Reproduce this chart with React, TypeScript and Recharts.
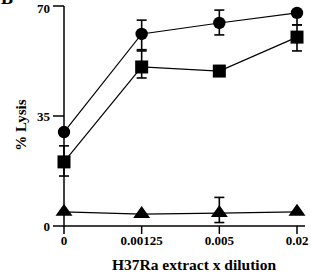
import React from 'react';
import { LineChart, Line, XAxis, YAxis, ErrorBar } from 'recharts';

const dilutions = ['0', '0.00125', '0.005', '0.02'];
const circleValues = [29.9, 61.1, 64.6, 67.8];
const circleErrors: [number, number][] = [[1, 1], [5, 4.4], [3.8, 4.1], [3.8, 0]];
const squareValues = [20.4, 50.6, 49.3, 60.1];
const squareErrors: [number, number][] = [[4.5, 5.1], [3.5, 5.1], [1, 1], [4.4, 3.9]];
const triangleValues = [4.5, 3.8, 4.1, 4.5];
const triangleErrors: [number, number][] = [[0, 0], [0, 0], [3, 5], [0, 0]];
const yTicks = [0, 35, 70];

const data = dilutions.map((d, i) => ({
  dilution: d,
  circle: circleValues[i],
  circleErr: circleErrors[i],
  square: squareValues[i],
  squareErr: squareErrors[i],
  triangle: triangleValues[i],
  triangleErr: triangleErrors[i],
}));

const FONT = '"Liberation Serif", "Times New Roman", serif';

const CircleDot = (p: any) => (
  <circle key={p.key} cx={p.cx} cy={p.cy} r={6.2} fill="#000" stroke="none" />
);
const SquareDot = (p: any) => (
  <rect key={p.key} x={p.cx - 6.5} y={p.cy - 6.5} width={13} height={13} fill="#000" stroke="none" />
);
const TriangleDot = (p: any) => (
  <path
    key={p.key}
    d={`M${p.cx},${p.cy - 8} L${p.cx + 8.5},${p.cy + 4} L${p.cx - 8.5},${p.cy + 4} Z`}
    fill="#000"
    stroke="none"
  />
);

const tickStyle = { fontFamily: FONT, fontWeight: 700, fontSize: 13, fill: '#000' };

export default function App() {
  return (
    <div style={{ position: 'absolute', left: 0, top: 0, width: 311, height: 273, background: '#fff', overflow: 'hidden' }}>
      <div
        style={{
          position: 'absolute',
          left: 1,
          top: -12,
          fontFamily: FONT,
          fontWeight: 700,
          fontSize: 18,
          color: '#000',
        }}
      >
        B
      </div>
      <LineChart width={311} height={273} data={data} margin={{ top: 6, right: 6, left: 0, bottom: 0 }}>
        <XAxis
          dataKey="dilution"
          height={47}
          padding={{ left: 0, right: 8 }}
          stroke="#000"
          strokeWidth={1.5}
          tickSize={8}
          tickMargin={2}
          tick={tickStyle}
          interval={0}
          label={() => (
            <text
              x={194}
              y={270}
              textAnchor="middle"
              fontFamily={FONT}
              fontWeight={700}
              fontSize={15.5}
              fill="#000"
            >
              H37Ra extract x dilution
            </text>
          )}
        />
        <YAxis
          type="number"
          domain={[0, 70]}
          ticks={yTicks}
          width={64}
          stroke="#000"
          strokeWidth={1.5}
          tickSize={11}
          tickMargin={3}
          tick={tickStyle}
          label={() => (
            <text
              x={0}
              y={0}
              transform="translate(26,125) rotate(-90)"
              textAnchor="middle"
              fontFamily={FONT}
              fontWeight={700}
              fontSize={15}
              fill="#000"
            >
              % Lysis
            </text>
          )}
        />
        <Line
          dataKey="triangle"
          stroke="#000"
          strokeWidth={1.2}
          dot={TriangleDot}
          activeDot={false}
          isAnimationActive={false}
        >
          <ErrorBar dataKey="triangleErr" direction="y" width={5} stroke="#000" strokeWidth={1.6} />
        </Line>
        <Line
          dataKey="square"
          stroke="#000"
          strokeWidth={1.2}
          dot={SquareDot}
          activeDot={false}
          isAnimationActive={false}
        >
          <ErrorBar dataKey="squareErr" direction="y" width={5} stroke="#000" strokeWidth={1.6} />
        </Line>
        <Line
          dataKey="circle"
          stroke="#000"
          strokeWidth={1.2}
          dot={CircleDot}
          activeDot={false}
          isAnimationActive={false}
        >
          <ErrorBar dataKey="circleErr" direction="y" width={5} stroke="#000" strokeWidth={1.6} />
        </Line>
      </LineChart>
    </div>
  );
}
